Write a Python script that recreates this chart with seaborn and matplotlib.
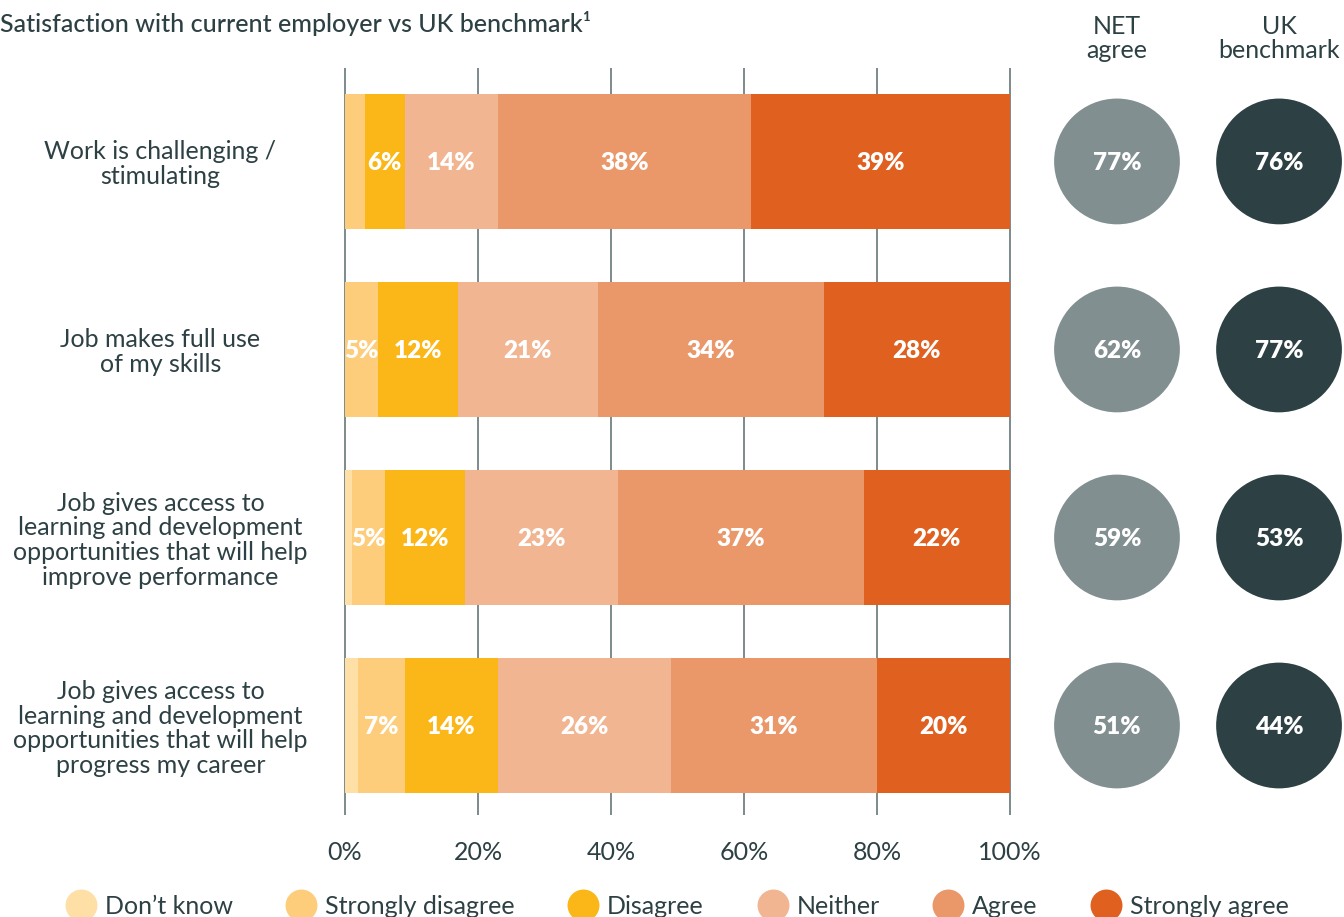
import pandas as pd
import matplotlib.pyplot as plt
import seaborn as sns
from matplotlib.lines import Line2D

# data
questions = ['Work is challenging /\nstimulating',
             'Job makes full use\nof my skills',
             'Job gives access to\nlearning and development\nopportunities that will help\nimprove performance',
             'Job gives access to\nlearning and development\nopportunities that will help\nprogress my career']
responses = ['Don\u2019t know', 'Strongly disagree', 'Disagree', 'Neither', 'Agree', 'Strongly agree']
dont_know = [0, 0, 1, 2]
strongly_disagree = [3, 5, 5, 7]
disagree = [6, 12, 12, 14]
neither = [14, 21, 23, 26]
agree = [38, 34, 37, 31]
strongly_agree = [39, 28, 22, 20]
measures = ['NET\nagree', 'UK\nbenchmark']
net_agree = [77, 62, 59, 51]
uk_benchmark = [76, 77, 53, 44]

colors = {'Don\u2019t know': '#FEDFA5', 'Strongly disagree': '#FDCD7B', 'Disagree': '#FBB617',
          'Neither': '#F2B592', 'Agree': '#EA986A', 'Strongly agree': '#E06020'}
circle_colors = {measures[0]: '#818F91', measures[1]: '#2D4043'}
dark = '#2D4043'

sns.set_theme(style='white')
plt.rcParams['font.family'] = ['Lato', 'DejaVu Sans']

# long table with stacked positions
values = [dont_know, strongly_disagree, disagree, neither, agree, strongly_agree]
rows = []
for qi, q in enumerate(questions):
    left = 0
    for r, v in zip(responses, values):
        rows.append({'question': q, 'response': r, 'value': v[qi], 'left': left, 'right': left + v[qi]})
        left += v[qi]
df = pd.DataFrame(rows)

circ = pd.DataFrame({'measure': [measures[0]] * 4 + [measures[1]] * 4,
                     'question': questions * 2,
                     'value': net_agree + uk_benchmark})

W, H = 1344, 917
fig = plt.figure(figsize=(W / 100, H / 100), dpi=100)
top_px, bot_px = 68, 815
ax = fig.add_axes([341 / W, 1 - bot_px / H, 673 / W, (bot_px - top_px) / H])
ylim = (3.476, -0.497)

# stacked bars: draw cumulative totals, largest first
sns.barplot(data=df, x='right', y='question', hue='response', hue_order=responses[::-1],
            palette=colors, dodge=False, width=0.718, legend=False, saturation=1,
            errorbar=None, ax=ax, zorder=2, linewidth=0)

for _, r in df.iterrows():
    if r['value'] >= 5:
        ax.text((r['left'] + r['right']) / 2, questions.index(r['question']) + 0.01, f"{r['value']}%",
                ha='center', va='center', color='white', fontsize=17.5, fontweight='heavy', zorder=3)

ax.set_xlim(-0.6, 100.6)
ax.set_ylim(*ylim)
ax.set_xticks(range(0, 101, 20))
ax.set_xticklabels([f'{t}%' for t in range(0, 101, 20)])
ax.set_axisbelow(True)
ax.xaxis.grid(True, color='#7D8A8C', linewidth=1.4)
ax.yaxis.grid(False)
sns.despine(ax=ax, left=True, bottom=True)
ax.tick_params(axis='x', length=0, pad=19, labelsize=18, labelcolor=dark)
ax.tick_params(axis='y', length=0, pad=130, labelsize=18, labelcolor=dark)
for lab in ax.get_yticklabels():
    lab.set_ha('center')
    lab.set_linespacing(1.1)
ax.set_xlabel('')
ax.set_ylabel('')

# circles
ax2 = fig.add_axes([1000 / W, 1 - bot_px / H, 344 / W, (bot_px - top_px) / H])
sns.scatterplot(data=circ, x='measure', y='question', hue='measure', palette=circle_colors,
                s=8200, linewidth=0, legend=False, ax=ax2, clip_on=False)
for _, r in circ.iterrows():
    ax2.text(measures.index(r['measure']), questions.index(r['question']) + 0.01, f"{r['value']}%",
             ha='center', va='center', color='white', fontsize=17.5, fontweight='heavy')
for i, m in enumerate(measures):
    ax2.text(i, 1.0395, m, transform=ax2.get_xaxis_transform(), ha='center', va='center',
             fontsize=18, color=dark, linespacing=1.1)
ax2.set_xlim(-0.722, 1.401)
ax2.set_ylim(*ylim)
ax2.axis('off')

fig.text(0.0, 1 - 24 / H, 'Satisfaction with current employer vs UK benchmark\u00b9',
         ha='left', va='center', fontsize=18, color=dark, fontweight='medium')

handles = [Line2D([], [], marker='o', linestyle='', markersize=23, markerfacecolor=colors[r],
                  markeredgewidth=0) for r in responses]
fig.legend(handles, responses, loc='center', bbox_to_anchor=(0.505, 1 - 906 / H), ncol=6,
           frameon=False, fontsize=18, handletextpad=0.45, columnspacing=2.25, handlelength=1.0,
           labelcolor=dark)

fig.savefig('out.png', dpi=100)
